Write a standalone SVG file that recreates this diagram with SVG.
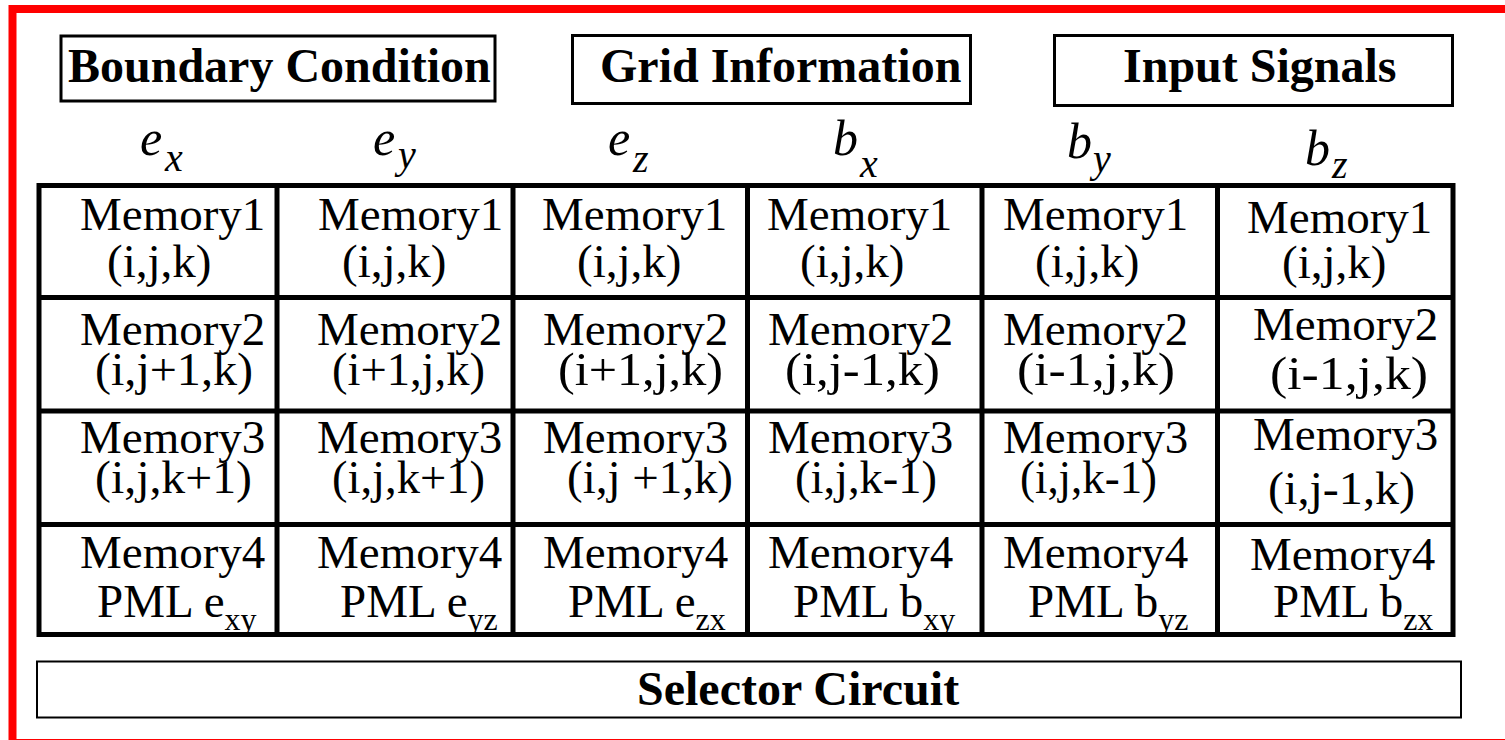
<svg xmlns="http://www.w3.org/2000/svg" width="1505" height="740" viewBox="0 0 1505 740">
<style>
.frame{fill:none;stroke:#ff0000;stroke-width:8}
.hbox{fill:#fff;stroke:#000;stroke-width:3}
.hl{font-family:"Liberation Serif","Times New Roman",serif;font-weight:bold;font-size:48px;fill:#000}
.var{font-family:"Liberation Serif","Times New Roman",serif;font-style:italic;font-size:50px;fill:#000}
.sub{font-family:"Liberation Serif","Times New Roman",serif;font-style:italic;font-size:40px;fill:#000}
.ct{font-family:"Liberation Serif","Times New Roman",serif;font-size:47px;fill:#000}
.cs{font-size:32px}
.grid{fill:none;stroke:#000;stroke-width:5}
.sel{fill:#fff;stroke:#000;stroke-width:2}
</style>
<rect x="0" y="0" width="1505" height="740" fill="#fff"/>
<rect class="frame" x="12.5" y="9" width="1500" height="734"/>

<g id="boundary-condition">
<rect class="hbox" x="61" y="36" width="434" height="65"/>
<text class="hl" x="68" y="82">Boundary Condition</text>
</g>
<g id="grid-information">
<rect class="hbox" x="572.5" y="35.5" width="398" height="68"/>
<text class="hl" x="600" y="82">Grid Information</text>
</g>
<g id="input-signals">
<rect class="hbox" x="1054.5" y="35.5" width="398" height="70"/>
<text class="hl" x="1123" y="82">Input Signals</text>
</g>

<g id="label-ex"><text class="var" x="140" y="155">e</text><text class="sub" x="165" y="171">x</text></g>
<g id="label-ey"><text class="var" x="373" y="155">e</text><text class="sub" x="398" y="168">y</text></g>
<g id="label-ez"><text class="var" x="608" y="155">e</text><text class="sub" x="633" y="172">z</text></g>
<g id="label-bx"><text class="var" x="833" y="155">b</text><text class="sub" x="860" y="177">x</text></g>
<g id="label-by"><text class="var" x="1067" y="158">b</text><text class="sub" x="1093" y="172">y</text></g>
<g id="label-bz"><text class="var" x="1305" y="165">b</text><text class="sub" x="1332" y="178">z</text></g>

<g id="table">
<g id="cell-1-1"><text class="ct" x="80" y="230">Memory1</text><text class="ct" x="107" y="277">(i,j,k)</text></g>
<g id="cell-1-2"><text class="ct" x="318" y="230">Memory1</text><text class="ct" x="342" y="277">(i,j,k)</text></g>
<g id="cell-1-3"><text class="ct" x="542" y="230">Memory1</text><text class="ct" x="577" y="277">(i,j,k)</text></g>
<g id="cell-1-4"><text class="ct" x="767" y="230">Memory1</text><text class="ct" x="800" y="277">(i,j,k)</text></g>
<g id="cell-1-5"><text class="ct" x="1003" y="230">Memory1</text><text class="ct" x="1035" y="277">(i,j,k)</text></g>
<g id="cell-1-6"><text class="ct" x="1247" y="233">Memory1</text><text class="ct" x="1282" y="278">(i,j,k)</text></g>

<g id="cell-2-1"><text class="ct" x="80" y="345">Memory2</text><text class="ct" x="95" y="385" textLength="158" lengthAdjust="spacingAndGlyphs">(i,j+1,k)</text></g>
<g id="cell-2-2"><text class="ct" x="317" y="345">Memory2</text><text class="ct" x="332" y="385" textLength="153" lengthAdjust="spacingAndGlyphs">(i+1,j,k)</text></g>
<g id="cell-2-3"><text class="ct" x="543" y="345">Memory2</text><text class="ct" x="558" y="385" textLength="165" lengthAdjust="spacingAndGlyphs">(i+1,j,k)</text></g>
<g id="cell-2-4"><text class="ct" x="768" y="345">Memory2</text><text class="ct" x="785" y="385" textLength="155" lengthAdjust="spacingAndGlyphs">(i,j-1,k)</text></g>
<g id="cell-2-5"><text class="ct" x="1003" y="345">Memory2</text><text class="ct" x="1017" y="385" textLength="158" lengthAdjust="spacingAndGlyphs">(i-1,j,k)</text></g>
<g id="cell-2-6"><text class="ct" x="1253" y="340">Memory2</text><text class="ct" x="1270" y="389" textLength="158" lengthAdjust="spacingAndGlyphs">(i-1,j,k)</text></g>

<g id="cell-3-1"><text class="ct" x="80" y="453">Memory3</text><text class="ct" x="95" y="493" textLength="157" lengthAdjust="spacingAndGlyphs">(i,j,k+1)</text></g>
<g id="cell-3-2"><text class="ct" x="317" y="453">Memory3</text><text class="ct" x="332" y="493" textLength="153" lengthAdjust="spacingAndGlyphs">(i,j,k+1)</text></g>
<g id="cell-3-3"><text class="ct" x="543" y="453">Memory3</text><text class="ct" x="567" y="493" textLength="166" lengthAdjust="spacingAndGlyphs">(i,j +1,k)</text></g>
<g id="cell-3-4"><text class="ct" x="768" y="453">Memory3</text><text class="ct" x="795" y="493" textLength="142" lengthAdjust="spacingAndGlyphs">(i,j,k-1)</text></g>
<g id="cell-3-5"><text class="ct" x="1003" y="453">Memory3</text><text class="ct" x="1020" y="493" textLength="137" lengthAdjust="spacingAndGlyphs">(i,j,k-1)</text></g>
<g id="cell-3-6"><text class="ct" x="1253" y="450">Memory3</text><text class="ct" x="1268" y="504" textLength="147" lengthAdjust="spacingAndGlyphs">(i,j-1,k)</text></g>

<g id="cell-4-1"><text class="ct" x="80" y="568">Memory4</text><text class="ct" x="97" y="617">PML e<tspan class="cs" dy="13">xy</tspan></text></g>
<g id="cell-4-2"><text class="ct" x="317" y="568">Memory4</text><text class="ct" x="340" y="617">PML e<tspan class="cs" dy="13">yz</tspan></text></g>
<g id="cell-4-3"><text class="ct" x="543" y="568">Memory4</text><text class="ct" x="568" y="617">PML e<tspan class="cs" dy="13">zx</tspan></text></g>
<g id="cell-4-4"><text class="ct" x="768" y="568">Memory4</text><text class="ct" x="793" y="617">PML b<tspan class="cs" dy="13">xy</tspan></text></g>
<g id="cell-4-5"><text class="ct" x="1003" y="568">Memory4</text><text class="ct" x="1028" y="617">PML b<tspan class="cs" dy="13">yz</tspan></text></g>
<g id="cell-4-6"><text class="ct" x="1250" y="570">Memory4</text><text class="ct" x="1273" y="617">PML b<tspan class="cs" dy="13">zx</tspan></text></g>

<g id="table-grid">
<rect class="grid" x="39" y="185.5" width="1414" height="449"/>
<path class="grid" d="M277 185.5V634.5M513 185.5V634.5M747.5 185.5V634.5M982 185.5V634.5M1217.5 185.5V634.5M39 297.5H1453M39 411H1453M39 524.5H1453"/>
</g>
</g>

<g id="selector-circuit">
<rect class="sel" x="37" y="661.5" width="1424" height="56"/>
<text class="hl" x="637" y="705">Selector Circuit</text>
</g>

<g id="connectors"/>
</svg>
